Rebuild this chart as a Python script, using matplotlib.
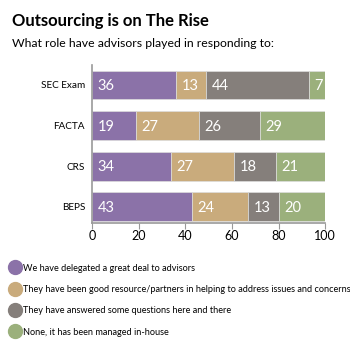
import matplotlib.pyplot as plt
from matplotlib.lines import Line2D

plt.rcParams["font.family"] = ["Lato", "DejaVu Sans"]

categories = ["BEPS", "CRS", "FACTA", "SEC Exam"]
delegated = [43, 34, 19, 36]
good_resource = [24, 27, 27, 13]
answered = [13, 18, 26, 44]
in_house = [20, 21, 29, 7]

series_labels = [
    "We have delegated a great deal to advisors",
    "They have been good resource/partners in helping to address issues and concerns",
    "They have answered some questions here and there",
    "None, it has been managed in-house",
]
colors = ["#8b72a8", "#c9ab7c", "#857f7b", "#9bb07c"]


def main():
    fig = plt.figure(figsize=(3.5, 3.5), dpi=100)
    ax = fig.add_axes([0.263, 0.363, 0.666, 0.451])

    series = [delegated, good_resource, answered, in_house]
    left = [0] * len(categories)
    for values, color in zip(series, colors):
        bars = ax.barh(categories, values, left=left, height=0.71, color=color,
                       edgecolor="#dddddd", linewidth=0.5)
        for rect, v in zip(bars, values):
            ax.text(rect.get_x() + 2.3, rect.get_y() + rect.get_height() / 2 - 0.03,
                    str(v), color="white", fontsize=10.5, va="center", ha="left")
        left = [a + b for a, b in zip(left, values)]

    ax.set_xlim(0, 100)
    ax.set_ylim(-0.40, 3.49)
    ax.set_xticks(range(0, 101, 20))
    for side in ("top", "right"):
        ax.spines[side].set_visible(False)
    for side in ("left", "bottom"):
        ax.spines[side].set_color("#999999")
        ax.spines[side].set_linewidth(1.2)
    ax.tick_params(axis="y", length=0, labelsize=7.2, pad=5)
    ax.tick_params(axis="x", length=4, color="#999999", labelsize=9, pad=1)

    fig.text(0.034, 0.94, "Outsourcing is on The Rise", fontsize=12,
             fontweight="bold", va="center")
    fig.text(0.034, 0.875, "What role have advisors played in responding to:",
             fontsize=8.8, va="center")

    handles = [Line2D([], [], marker="o", linestyle="", markersize=10,
                      markerfacecolor=c, markeredgecolor=c) for c in colors]
    fig.legend(handles, series_labels, loc="upper left",
               bbox_to_anchor=(0.028, 0.247), frameon=False, fontsize=6.6,
               labelspacing=1.35, handletextpad=0.2, handlelength=1.2,
               borderaxespad=0, borderpad=0)

    fig.savefig("out.png", dpi=100)


if __name__ == "__main__":
    main()
